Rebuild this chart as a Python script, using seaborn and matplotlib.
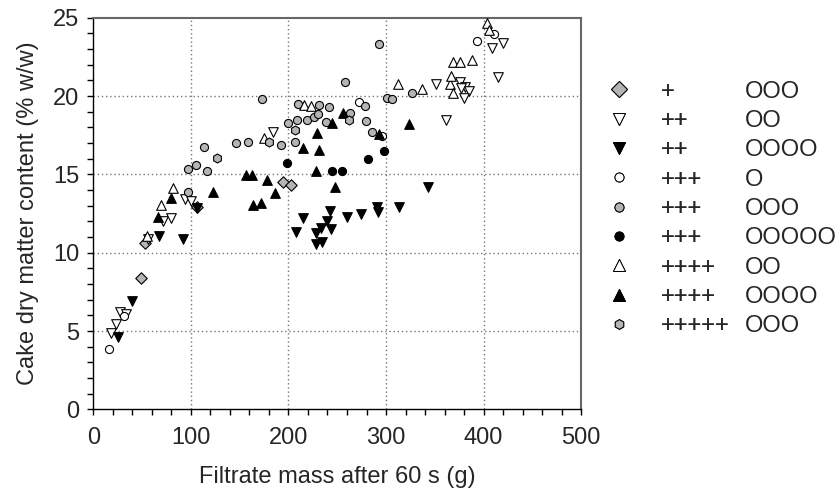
import matplotlib
matplotlib.use("Agg")
import matplotlib.pyplot as plt
from matplotlib.ticker import MultipleLocator
from matplotlib.lines import Line2D
import seaborn as sns
import pandas as pd

# ---- data -------------------------------------------------------------
s1_x = [49, 53, 106, 194, 203]
s1_y = [8.4, 10.6, 12.95, 14.5, 14.35]

s2_x = [18, 23, 27, 34, 56, 71, 80, 94, 100, 184, 351, 361, 376, 381, 385, 377, 380, 409, 420, 415]
s2_y = [4.9, 5.45, 6.2, 6.1, 10.9, 12.0, 12.25, 13.45, 13.3, 17.7, 20.8, 18.5, 20.9, 20.6, 20.3, 20.5, 19.9, 23.05, 23.4, 21.2]

s3_x = [25.5, 40, 67.5, 92, 106, 215, 208, 243, 239, 260, 274, 244, 233, 228, 234, 228, 290.5, 292, 313.6, 343]
s3_y = [4.65, 6.9, 11.1, 10.9, 12.85, 12.25, 11.35, 12.65, 12.0, 12.3, 12.5, 11.5, 11.6, 11.25, 10.7, 10.55, 12.95, 12.6, 12.95, 14.2]

s4_x = [16, 31.5, 272, 295.6, 393.6, 411]
s4_y = [3.85, 5.95, 19.65, 17.45, 23.5, 23.95]

s5_x = [97, 105, 113.5, 116.7, 97.5, 146, 159, 172.5, 192.3, 199.5, 206.7, 208.4, 209.4, 218.7,
        226, 230.6, 231.6, 238.5, 241.8, 258.3, 263, 278.5, 279.5, 286, 292.8, 301, 306.5, 326.4]
s5_y = [15.35, 15.6, 16.75, 15.2, 13.9, 17.0, 17.1, 19.8, 16.9, 18.3, 17.05, 18.5, 19.5, 18.5,
        18.65, 18.85, 19.45, 18.35, 19.3, 20.9, 18.9, 19.4, 18.4, 17.7, 23.3, 19.85, 19.8, 20.2]

s6_x = [198, 245, 255, 281, 298]
s6_y = [15.75, 15.25, 15.25, 16.0, 16.5]

s7_x = [55, 69, 82, 175, 215.5, 223, 312, 336.6, 365, 366.4, 369, 376, 388, 369, 403.3, 405.6]
s7_y = [11.05, 13.05, 14.15, 17.3, 19.45, 19.35, 20.75, 20.45, 20.8, 21.3, 22.2, 22.15, 22.3, 20.2, 24.65, 24.2]

s8_x = [66.5, 80, 122.5, 157, 163, 163.3, 171.5, 178.5, 186.5, 214.8, 229, 231.3, 228.2, 244.3,
        247.7, 256.2, 293, 323]
s8_y = [12.3, 13.5, 13.85, 14.95, 14.95, 13.05, 13.2, 14.65, 13.8, 16.7, 17.65, 16.55, 15.2, 18.3,
        14.2, 18.95, 17.6, 18.25]

s9_x = [126.4, 180.3, 206.3, 262.4]
s9_y = [16.05, 17.1, 17.85, 18.5]

col_plus = ["+", "++", "++", "+++", "+++", "+++", "++++", "++++", "+++++"]
col_o = ["OOO", "OO", "OOOO", "O", "OOO", "OOOOO", "OO", "OOOO", "OOO"]

x_ticks = [0, 100, 200, 300, 400, 500]
y_ticks = [0, 5, 10, 15, 20, 25]
x_label = "Filtrate mass after 60 s (g)"
y_label = "Cake dry matter content (% w/w)"

# ---- styling ----------------------------------------------------------
GRAY = "#b4b4b4"
series = [
    (s1_x, s1_y, "D", GRAY, 34, 8),
    (s2_x, s2_y, "v", "white", 48, 8),
    (s3_x, s3_y, "v", "black", 48, 8),
    (s4_x, s4_y, "o", "white", 34, 6.5),
    (s5_x, s5_y, "o", GRAY, 34, 6.5),
    (s6_x, s6_y, "o", "black", 34, 6.5),
    (s7_x, s7_y, "^", "white", 48, 8),
    (s8_x, s8_y, "^", "black", 48, 8),
    (s9_x, s9_y, "h", GRAY, 42, 7),
]

FS = 17

sns.set_theme(style="white")
plt.rcParams["font.family"] = ["Liberation Sans", "DejaVu Sans"]

fig = plt.figure(figsize=(8.4, 4.95), dpi=100)
ax = fig.add_axes([0.111, 0.173, 0.581, 0.791])

handles = []
for i, (xs, ys, m, c, s, ms) in enumerate(series):
    df = pd.DataFrame({"x": xs, "y": ys})
    sns.scatterplot(data=df, x="x", y="y", marker=m, color=c, edgecolor="black",
                    linewidth=0.8, s=s, ax=ax, legend=False, zorder=3)
    handles.append(Line2D([], [], linestyle="none", marker=m, markerfacecolor=c,
                          markeredgecolor="black", markeredgewidth=0.7,
                          markersize=ms))

ax.set_xlim(0, 500)
ax.set_ylim(0, 25)
ax.set_xticks(x_ticks)
ax.set_yticks(y_ticks)
ax.xaxis.set_minor_locator(MultipleLocator(20))
ax.yaxis.set_minor_locator(MultipleLocator(1))
ax.tick_params(axis="both", which="both", direction="out", length=4, width=1,
               color="black", labelsize=FS, bottom=True, left=True, pad=4)
ax.tick_params(axis="x", which="major", pad=9)
ax.tick_params(axis="y", which="major", pad=6)

for v in x_ticks[1:-1]:
    ax.axvline(v, color="#777777", linestyle=(0, (1, 2)), linewidth=1, zorder=1)
for v in y_ticks[1:-1]:
    ax.axhline(v, color="#777777", linestyle=(0, (1, 2)), linewidth=1, zorder=1)

for sp in ["left", "bottom"]:
    ax.spines[sp].set_color("black")
    ax.spines[sp].set_linewidth(1)
for sp in ["top", "right"]:
    ax.spines[sp].set_color("#666666")
    ax.spines[sp].set_linewidth(1.5)

ax.set_xlabel(x_label, fontsize=FS, labelpad=12)
ax.set_ylabel(y_label, fontsize=FS, labelpad=10)

leg1 = fig.legend(handles, col_plus, loc="upper left", bbox_to_anchor=(0.7227, 0.837),
                  frameon=False, fontsize=FS, handlelength=1.0, handletextpad=1.29,
                  labelspacing=0.31, borderpad=0, borderaxespad=0)
fig.add_artist(leg1)
empty = [Line2D([], [], linestyle="none") for _ in col_o]
leg2 = fig.legend(empty, col_o, loc="upper left", bbox_to_anchor=(0.887, 0.837),
                  frameon=False, fontsize=FS, handlelength=0, handletextpad=0,
                  labelspacing=0.31, borderpad=0, borderaxespad=0)

fig.savefig("out.png", dpi=100)
